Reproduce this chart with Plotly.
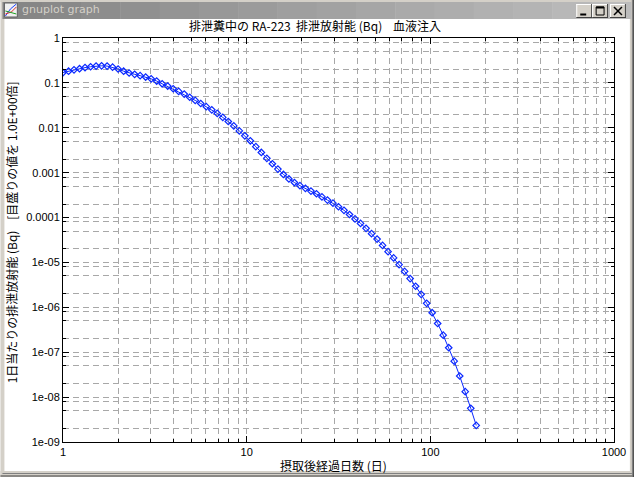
import plotly.graph_objects as go

# ---- data ----
days = [1.000, 1.072, 1.148, 1.230, 1.318, 1.413, 1.514, 1.622, 1.738, 1.862,
        1.995, 2.138, 2.291, 2.455, 2.630, 2.818, 3.020, 3.236, 3.467, 3.715,
        3.981, 4.266, 4.571, 4.898, 5.248, 5.623, 6.026, 6.457, 6.918, 7.413,
        7.943, 8.511, 9.120, 9.772, 10.47, 11.22, 12.02, 12.88, 13.80, 14.79,
        15.85, 16.98, 18.20, 19.50, 20.89, 22.39, 23.99, 25.70, 27.54, 29.51,
        31.62, 33.88, 36.31, 38.90, 41.69, 44.67, 47.86, 51.29, 54.95, 58.88,
        63.10, 67.61, 72.44, 77.62, 83.18, 89.13, 95.50, 102.3, 109.6, 117.5,
        125.9, 134.9, 144.5, 154.9, 166.0, 177.8]
activity = [0.170, 0.182, 0.195, 0.207, 0.219, 0.229, 0.237, 0.240, 0.237, 0.224,
            0.204, 0.182, 0.166, 0.155, 0.145, 0.135, 0.123, 0.110, 0.0955, 0.0851,
            0.0741, 0.0646, 0.0562, 0.0479, 0.0407, 0.0347, 0.0295, 0.0251, 0.0209, 0.0170,
            0.0138, 0.0110, 0.00851, 0.00661, 0.00513, 0.00380, 0.00282, 0.00209, 0.00158, 0.00120,
            9.12e-4, 7.24e-4, 6.03e-4, 5.13e-4, 4.47e-4, 3.89e-4, 3.39e-4, 2.88e-4, 2.45e-4, 2.09e-4,
            1.74e-4, 1.45e-4, 1.17e-4, 9.33e-5, 7.41e-5, 5.75e-5, 4.37e-5, 3.31e-5, 2.40e-5, 1.74e-5,
            1.26e-5, 8.91e-6, 6.31e-6, 4.37e-6, 2.95e-6, 1.95e-6, 1.23e-6, 7.59e-7, 4.37e-7, 2.40e-7,
            1.26e-7, 6.31e-8, 2.95e-8, 1.32e-8, 5.62e-9, 2.34e-9]

x_tick_vals = [1, 10, 100, 1000]
x_tick_text = ["1", "10", "100", "1000"]
y_tick_vals = [1, 0.1, 0.01, 0.001, 0.0001, 1e-5, 1e-6, 1e-7, 1e-8, 1e-9]
y_tick_text = ["1", "0.1", "0.01", "0.001", "0.0001", "1e-05", "1e-06", "1e-07", "1e-08", "1e-09"]

title_text = "排泄糞中の RA-223  排泄放射能 (Bq)    血液注入"
x_label = "摂取後経過日数 (日)"
y_label = "1日当たりの排泄放射能 (Bq)    [目盛りの値を 1.0E+00倍]"
window_title = "gnuplot graph"

# ---- layout geometry (pixels) ----
W, H = 638, 477
L, R, T, B = 63, 618, 38, 442


def px(x):
    return (x - L) / (R - L)


def py(y):
    return (B - y) / (B - T)


minor_x = [m * 10 ** e for e in range(0, 3) for m in range(2, 10)]
minor_y = [m * 10.0 ** e for e in range(-9, 0) for m in (2, 5, 8)]

GRID = "#a8a8a8"
DASH = "6px,4px"
NUM_FONT = dict(family="Liberation Sans, Arial, sans-serif", size=11, color="black")
JP_FONT = dict(family="Noto Sans CJK JP, sans-serif", size=12, color="black")
BLUE = "#0a28ff"

fig = go.Figure()
fig.add_trace(go.Scatter(
    x=days, y=activity, mode="lines+markers",
    line=dict(color=BLUE, width=1),
    marker=dict(symbol="diamond-open", size=5, color=BLUE, line=dict(width=1.2, color=BLUE)),
    showlegend=False, hoverinfo="x+y",
))

axis_common = dict(
    showline=True, linecolor="black", linewidth=1, mirror="allticks",
    ticks="inside", ticklen=6, tickcolor="black", tickwidth=1,
    showgrid=True, gridcolor=GRID, gridwidth=1, griddash=DASH,
    zeroline=False, tickfont=NUM_FONT,
)

fig.update_xaxes(type="log", range=[0, 3], tickvals=x_tick_vals, ticktext=x_tick_text,
                 minor=dict(tickvals=minor_x, ticks="inside", ticklen=3, tickcolor="black",
                            showgrid=True, gridcolor=GRID, griddash=DASH, gridwidth=1),
                 **axis_common)
fig.update_yaxes(type="log", range=[-9, 0], tickvals=y_tick_vals, ticktext=y_tick_text,
                 minor=dict(tickvals=minor_y, ticks="inside", ticklen=3, tickcolor="black",
                            showgrid=True, gridcolor=GRID, griddash=DASH, gridwidth=1),
                 **axis_common)

shapes = []


def rect(x0, y0, x1, y1, color, line=None):
    d = dict(type="rect", xref="paper", yref="paper",
             x0=px(x0), x1=px(x1), y0=py(y1), y1=py(y0),
             fillcolor=color, line=dict(width=0), layer="above")
    if line:
        d["line"] = dict(width=1, color=line)
    shapes.append(d)


def hline(x0, x1, y, color, w=1):
    shapes.append(dict(type="line", xref="paper", yref="paper",
                       x0=px(x0), x1=px(x1), y0=py(y), y1=py(y),
                       line=dict(color=color, width=w), layer="above"))


def vline(x, y0, y1, color, w=1):
    shapes.append(dict(type="line", xref="paper", yref="paper",
                       x0=px(x), x1=px(x), y0=py(y0), y1=py(y1),
                       line=dict(color=color, width=w), layer="above"))


FRAME = "#d4d0c8"
# window frame
rect(0, 0, 4, H, FRAME)
rect(634, 0, W, H, FRAME)
rect(0, 0, W, 2, FRAME)
rect(0, 471, W, H, FRAME)
hline(2, 636, 473.5, "#808080")
hline(0, W, 476, "#404040")
vline(636.5, 0, H, "#808080")
vline(637.5, 0, H, "#404040")
# title bar gradient (inactive)
n = 16
x_start, x_end = 2, 635
for i in range(n):
    a = x_start + (x_end - x_start) * i / n
    b = x_start + (x_end - x_start) * (i + 1) / n + 0.5
    v = int(0x86 + (0xbc - 0x86) * i / (n - 1))
    rect(a, 2, b, 19, "#%02x%02x%02x" % (v, v, v))
# icon
rect(4, 3, 17, 17, "#f0f0f0", line="#606060")
shapes.append(dict(type="path", xref="paper", yref="paper",
                   path="M %f %f L %f %f L %f %f" % (px(5), py(16), px(10), py(9), px(16), py(4)),
                   line=dict(color="#2040ff", width=1), layer="above"))
shapes.append(dict(type="path", xref="paper", yref="paper",
                   path="M %f %f L %f %f L %f %f" % (px(5), py(14), px(11), py(12), px(16), py(7)),
                   line=dict(color="#e03030", width=1), layer="above"))
shapes.append(dict(type="path", xref="paper", yref="paper",
                   path="M %f %f L %f %f" % (px(5), py(11), px(16), py(14)),
                   line=dict(color="#20a020", width=1), layer="above"))
# buttons
for bx in (580, 596, 614):
    rect(bx, 4, bx + 16, 18, FRAME)
    hline(bx, bx + 16, 4.5, "white")
    vline(bx + 0.5, 4, 18, "white")
    hline(bx, bx + 16, 17.5, "#404040")
    vline(bx + 15.5, 4, 18, "#404040")
# minimize glyph
hline(584, 590, 14.5, "black", 2)
# maximize glyph
rect(600, 7, 608, 15, "rgba(0,0,0,0)", line="black")
hline(600, 608, 7.5, "black", 2)
# close glyph
shapes.append(dict(type="path", xref="paper", yref="paper",
                   path="M %f %f L %f %f M %f %f L %f %f" % (px(618), py(7), px(626), py(15),
                                                           px(626), py(7), px(618), py(15)),
                   line=dict(color="black", width=1.5), layer="above"))

annotations = [
    dict(text=window_title, x=px(20), y=py(10), xref="paper", yref="paper",
         xanchor="left", yanchor="middle", showarrow=False,
         font=dict(family="DejaVu Sans, sans-serif", size=11, color="#d4d0c8")),
    dict(text=title_text, x=px(317), y=py(26), xref="paper", yref="paper",
         xanchor="center", yanchor="middle", showarrow=False, font=JP_FONT),
    dict(text=x_label, x=px(335), y=py(465), xref="paper", yref="paper",
         xanchor="center", yanchor="middle", showarrow=False, font=JP_FONT),
    dict(text=y_label, x=px(11), y=py(232), xref="paper", yref="paper",
         xanchor="center", yanchor="middle", showarrow=False, textangle=-90, font=JP_FONT),
]

fig.update_layout(
    width=W, height=H, autosize=False,
    margin=dict(l=L, r=W - R, t=T, b=H - B, pad=0),
    paper_bgcolor="white", plot_bgcolor="white",
    shapes=shapes, annotations=annotations,
    showlegend=False,
)

fig.write_html("out.html", config={"displayModeBar": False},
               post_script="document.body.style.margin='0px';document.body.style.overflow='hidden';")
